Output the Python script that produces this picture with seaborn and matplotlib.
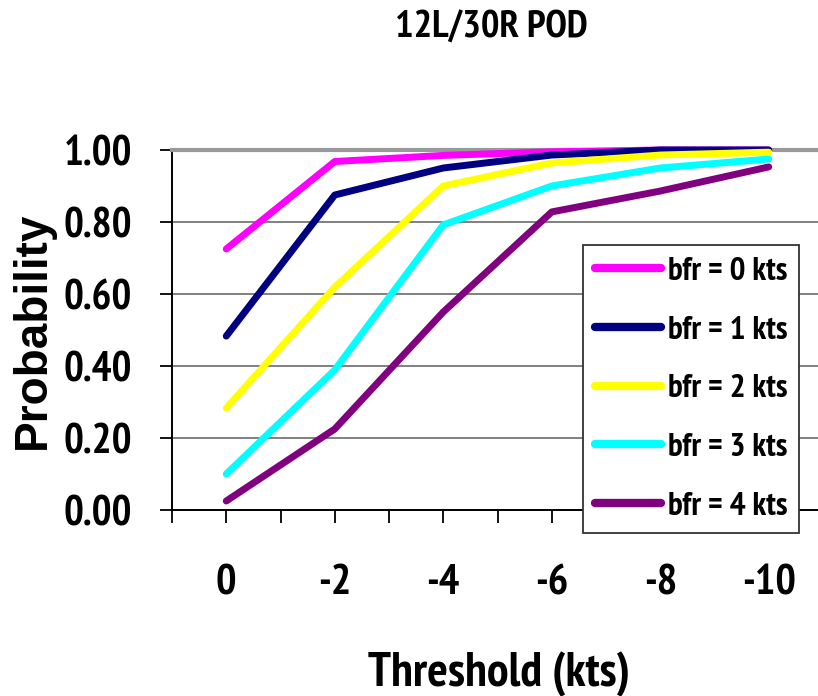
import pandas as pd
import seaborn as sns
from matplotlib import pyplot as plt
from matplotlib import font_manager

# data
thresholds = ["0", "-2", "-4", "-6", "-8", "-10"]
series_names = ["bfr = 0 kts", "bfr = 1 kts", "bfr = 2 kts", "bfr = 3 kts", "bfr = 4 kts"]
bfr0 = [0.725, 0.968, 0.985, 0.995, 1.0, 1.0]
bfr1 = [0.483, 0.875, 0.950, 0.986, 1.0, 1.0]
bfr2 = [0.283, 0.619, 0.900, 0.964, 0.986, 0.994]
bfr3 = [0.100, 0.389, 0.792, 0.900, 0.950, 0.975]
bfr4 = [0.025, 0.225, 0.550, 0.828, 0.886, 0.953]
colors = ["#FF00FF", "#000080", "#FFFF00", "#00FFFF", "#800080"]

rows = []
for name, vals in zip(series_names, [bfr0, bfr1, bfr2, bfr3, bfr4]):
    for i, v in enumerate(vals):
        rows.append({"pos": i, "prob": v, "series": name})
df = pd.DataFrame(rows)


def pick_font(candidates):
    bold = {f.name for f in font_manager.fontManager.ttflist if f.weight in (700, "bold")}
    for c in candidates:
        if c in bold:
            return c
    return "DejaVu Sans"


narrow_name = pick_font(["Liberation Sans Narrow", "Arial Narrow", "Archivo Narrow",
                         "PT Sans Narrow", "Roboto Condensed", "Fira Sans Condensed",
                         "Open Sans Condensed", "Barlow Semi Condensed", "Saira SemiCondensed"])
wide_name = pick_font(["Liberation Sans", "Arimo", "Arial", "Roboto"])
narrow = [narrow_name, "DejaVu Sans"]
wide = [wide_name, "DejaVu Sans"]

sns.set_style("white")
plt.rcParams["font.family"] = narrow
plt.rcParams["font.weight"] = "bold"
plt.rcParams["text.color"] = "black"
plt.rcParams["xtick.color"] = "black"
plt.rcParams["ytick.color"] = "black"

W, H = 818, 696
fig = plt.figure(figsize=(W / 100, H / 100), dpi=100)
ax = fig.add_axes((172 / W, 1 - 510 / H, 651 / W, 360 / H))

sns.lineplot(data=df, x="pos", y="prob", hue="series", palette=colors,
             linewidth=5, solid_capstyle="round", clip_on=False, ax=ax,
             legend=False, zorder=3)

ax.set_xlim(-0.5, 5.5)
ax.set_ylim(0, 1)
ax.set_xticks(range(len(thresholds)))
ax.set_xticklabels(thresholds)
ax.set_xticks([i + 0.5 for i in range(-1, len(thresholds))], minor=True)
ax.set_yticks([0, 0.2, 0.4, 0.6, 0.8, 1.0])
ax.set_yticklabels(["0.00", "0.20", "0.40", "0.60", "0.80", "1.00"])
ax.tick_params(axis="x", which="both", direction="out", length=9, width=1.3,
               color="black", bottom=True)
ax.tick_params(axis="x", which="major", pad=30, labelsize=31)
ax.tick_params(axis="y", direction="out", length=9, width=1.3, color="black",
               pad=20, labelsize=30, left=True)
for lab in ax.get_xticklabels() + ax.get_yticklabels():
    lab.set_fontweight("bold")
    lab.set_color("black")

ax.yaxis.grid(True, color="#808080", linewidth=1.4)
ax.xaxis.grid(False)
ax.set_axisbelow(True)
ax.spines["left"].set_color("black")
ax.spines["left"].set_linewidth(1.4)
ax.spines["bottom"].set_color("black")
ax.spines["bottom"].set_linewidth(1.4)
ax.spines["top"].set_color("#999999")
ax.spines["top"].set_linewidth(3)
ax.spines["right"].set_visible(False)
ax.set_xlabel("")
ax.set_ylabel("")

handles = [plt.Line2D([], [], color=c, linewidth=6, solid_capstyle="round") for c in colors]
leg = ax.legend(handles, series_names, loc="upper left",
                bbox_to_anchor=(583 / W, 1 - 245 / H), bbox_transform=fig.transFigure,
                frameon=True, fancybox=False, edgecolor="#333333", framealpha=1,
                prop={"family": narrow, "weight": "bold", "size": 24},
                handlelength=2.0, handletextpad=0.2, labelspacing=0.85,
                borderpad=0.35, borderaxespad=0)
leg.get_frame().set_linewidth(1.3)
leg.set_zorder(10)

fig.text(491 / W, 1 - 28 / H, "12L/30R POD", ha="center", va="center",
         fontsize=28, fontweight="bold", family=narrow)
fig.text(499 / W, 1 - 686 / H, "Threshold (kts)", ha="center", va="baseline",
         fontsize=35, fontweight="bold", family=narrow)
fig.text(33 / W, 1 - 330 / H, "Probability", ha="center", va="center",
         rotation=90, fontsize=33, fontweight="bold", family=wide)

fig.savefig("out.png", dpi=100)
